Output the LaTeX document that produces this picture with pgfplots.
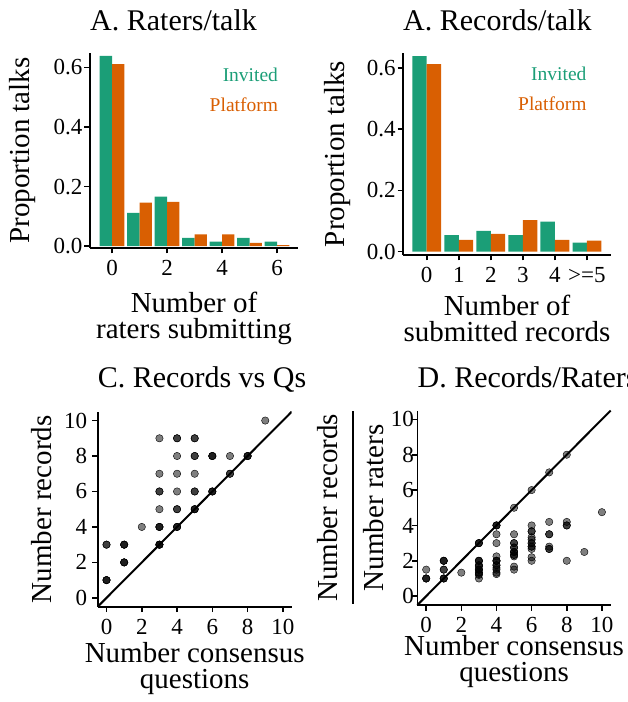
\documentclass[border=0pt]{standalone}
\usepackage{fontspec}
\setmainfont{Liberation Serif}
\usepackage{pgfplots}
\pgfplotsset{compat=1.18}
\definecolor{invited}{HTML}{1B9E77}
\definecolor{platform}{HTML}{D95F02}
\newcommand\labsize{\fontsize{29}{26}\selectfont}
\newcommand\titsize{\fontsize{30}{26}\selectfont}
\newcommand\ticksize{\fontsize{23}{26}\selectfont}
\newcommand\legsize{\fontsize{19.5}{22}\selectfont}
\pgfplotsset{
  base/.style={
    scale only axis,
    axis x line*=bottom, axis y line*=left,
    tick align=outside, major tick length=5.5pt,
    axis line style={line width=1.8pt, black},
    tick style={line width=1.6pt, black},
    ticklabel style={font=\ticksize, inner sep=0pt},
    xticklabel style={yshift=-6.5pt},
    /pgf/number format/assume math mode=true,
    label style={font=\labsize, inner sep=0pt},
    xlabel style={anchor=north, align=center},
    ylabel style={anchor=center},
    title style={anchor=base west, inner sep=0pt, font=\titsize},
  },
  dots/.style={only marks, mark=*, mark size=3.7pt,
    mark options={draw=none, fill=black, fill opacity=0.5}},
}
\begin{document}
\begin{tikzpicture}
\useasboundingbox (0,0) rectangle (628pt,702pt);
% ---------------- Panel A
\begin{axis}[base,
  at={(90pt,454pt)}, anchor=south west,
  width=208pt, height=195pt,
  xmin=-0.8, xmax=6.76, ymin=-0.006, ymax=0.648,
  xtick={0,2,4,6}, xticklabels={0,2,4,6},
  ytick={0,0.2,0.4,0.6}, yticklabels={0.0,0.2,0.4,0.6},
  yticklabel style={xshift=-1.8pt},
  title={A. Raters/talk},
  title style={at={(axis description cs:0,1.0836)}},
  xlabel={Number of\\raters submitting},
  xlabel style={at={(axis description cs:0.5,-0.2256)}},
  ylabel={Proportion talks},
  ylabel style={at={(axis description cs:-0.3221,0.5)}},
]
\addplot[ybar, bar width=0.45, bar shift=-0.225, fill=invited, draw=none]
  coordinates {(0,0.638) (1,0.112) (2,0.166) (3,0.028) (4,0.015) (5,0.028) (6,0.015)};
\addplot[ybar, bar width=0.45, bar shift=0.225, fill=platform, draw=none]
  coordinates {(0,0.611) (1,0.146) (2,0.149) (3,0.040) (4,0.040) (5,0.011) (6,0.004)};
\node[anchor=base east, text=invited, font=\legsize, inner sep=0pt] at (axis cs:6.04,0.552) {Invited};
\node[anchor=base east, text=platform, font=\legsize, inner sep=0pt] at (axis cs:6.04,0.453) {Platform};
\end{axis}
% ---------------- Panel B
\begin{axis}[base,
  at={(403pt,447pt)}, anchor=south west,
  width=208pt, height=202pt,
  xmin=-0.74, xmax=5.75, ymin=-0.011, ymax=0.648,
  xtick={0,1,2,3,4,5}, xticklabels={0,1,2,3,4,{>=5}},
  ytick={0,0.2,0.4,0.6}, yticklabels={0.0,0.2,0.4,0.6},
  yticklabel style={xshift=-1.8pt},
  title={A. Records/talk},
  title style={at={(axis description cs:0,1.0807)}},
  xlabel={Number of\\submitted records},
  xlabel style={at={(axis description cs:0.5,-0.198)}},
  ylabel={Proportion talks},
  ylabel style={at={(axis description cs:-0.3159,0.5)}},
]
\addplot[ybar, bar width=0.45, bar shift=-0.225, fill=invited, draw=none]
  coordinates {(0,0.638) (1,0.054) (2,0.068) (3,0.054) (4,0.098) (5,0.029)};
\addplot[ybar, bar width=0.45, bar shift=0.225, fill=platform, draw=none]
  coordinates {(0,0.612) (1,0.038) (2,0.058) (3,0.103) (4,0.038) (5,0.036)};
\node[anchor=base east, text=invited, font=\legsize, inner sep=0pt] at (axis cs:4.99,0.557) {Invited};
\node[anchor=base east, text=platform, font=\legsize, inner sep=0pt] at (axis cs:4.99,0.459) {Platform};
\end{axis}
% ---------------- Panel C
\begin{axis}[base,
  at={(97.7pt,95.3pt)}, anchor=south west,
  width=194pt, height=195pt,
  xmin=-0.5, xmax=10.5, ymin=-0.5, ymax=10.5,
  xtick={0,2,4,6,8,10}, xticklabels={0,2,4,6,8,10},
  ytick={0,2,4,6,8,10}, yticklabels={0,2,4,6,8,10},
  yticklabel style={xshift=-4.8pt},
  title={C. Records vs Qs},
  title style={at={(axis description cs:0,1.0944)}},
  xlabel={Number consensus\\questions},
  xlabel style={at={(axis description cs:0.5,-0.181)}},
  ylabel={Number records},
  ylabel style={at={(axis description cs:-0.2887,0.5)}},
]
\addplot[dots] coordinates {
 (0,1) (0,1) (0,1) (0,3) (0,3)
 (1,2) (1,2) (1,2) (1,3) (1,3) (1,3)
 (2,4)
 (3,3) (3,3) (3,3) (3,3) (3,4) (3,4) (3,4) (3,5) (3,6) (3,6) (3,7) (3,9)
 (4,4) (4,4) (4,4) (4,5) (4,5) (4,6) (4,7) (4,8) (4,9) (4,9)
 (5,5) (5,5) (5,5) (5,6) (5,6) (5,7) (5,8) (5,8) (5,9) (5,9)
 (6,6) (6,6) (6,6) (6,8) (6,8) (6,8)
 (7,7) (7,7) (7,8)
 (8,8) (8,8) (8,8)
 (9,10)
};
\addplot[black, line width=2pt, no marks] coordinates {(-0.5,-0.5) (10.5,10.5)};
\end{axis}
% ---------------- Panel D
\begin{axis}[base,
  at={(417.4pt,97pt)}, anchor=south west,
  width=193.3pt, height=194.5pt,
  xmin=-0.5, xmax=10.5, ymin=-0.5, ymax=10.5, clip=false,
  xtick={0,2,4,6,8,10}, xticklabels={0,2,4,6,8,10},
  ytick={0,2,4,6,8,10}, yticklabels={0,2,4,6,8,10},
  yticklabel style={xshift=2.1pt},
  title={D. Records/Raters},
  title style={at={(axis description cs:0,1.0884)}},
  xlabel={Number consensus\\questions},
  xlabel style={at={(axis description cs:0.5,-0.154)}},
  ylabel={Number raters},
  ylabel style={at={(axis description cs:-0.2245,0.5)}},
]
\addplot[dots] coordinates {
 (0,1) (0,1) (0,1) (0,1.5)
 (1,2) (1,2) (1,2) (1,1.5) (1,1.5) (1,1) (1,1) (1,1)
 (2,1.33)
 (3,3) (3,3) (3,3) (3,2) (3,2) (3,2) (3,1.75) (3,1.75) (3,1.67) (3,1.5) (3,1.5) (3,1.5) (3,1.33) (3,1.33) (3,1.25) (3,1.2) (3,1)
 (4,4) (4,4) (4,4) (4,3.5) (4,3) (4,2.25) (4,2) (4,2) (4,2) (4,1.75) (4,1.75) (4,1.6) (4,1.5) (4,1.33) (4,1.25)
 (5,5) (5,3.5) (5,3) (5,3) (5,2.75) (5,2.75) (5,2.5) (5,2.5) (5,2.5) (5,2.33) (5,2.33) (5,2.25) (5,1.67) (5,1.5)
 (6,6) (6,4) (6,3.67) (6,3.67) (6,3.33) (6,3.2) (6,3) (6,3) (6,2.8) (6,2.8) (6,2.67) (6,2.2) (6,2)
 (7,7) (7,4.2) (7,3.5) (7,3.5) (7,2.8) (7,2.67) (7,2.67)
 (8,8) (8,4.2) (8,4) (8,4) (8,2)
 (9,2.5)
 (10,4.75)
};
\addplot[black, line width=2pt, no marks] coordinates {(-0.5,-0.5) (10.5,10.5)};
\node[rotate=90, anchor=center, inner sep=0pt, font=\labsize] at (axis description cs:-0.4661,0.5) {Number records};
\draw[line width=1.5pt] (axis description cs:-0.3332,0.006) -- (axis description cs:-0.3332,1);
\end{axis}
\end{tikzpicture}
\end{document}
